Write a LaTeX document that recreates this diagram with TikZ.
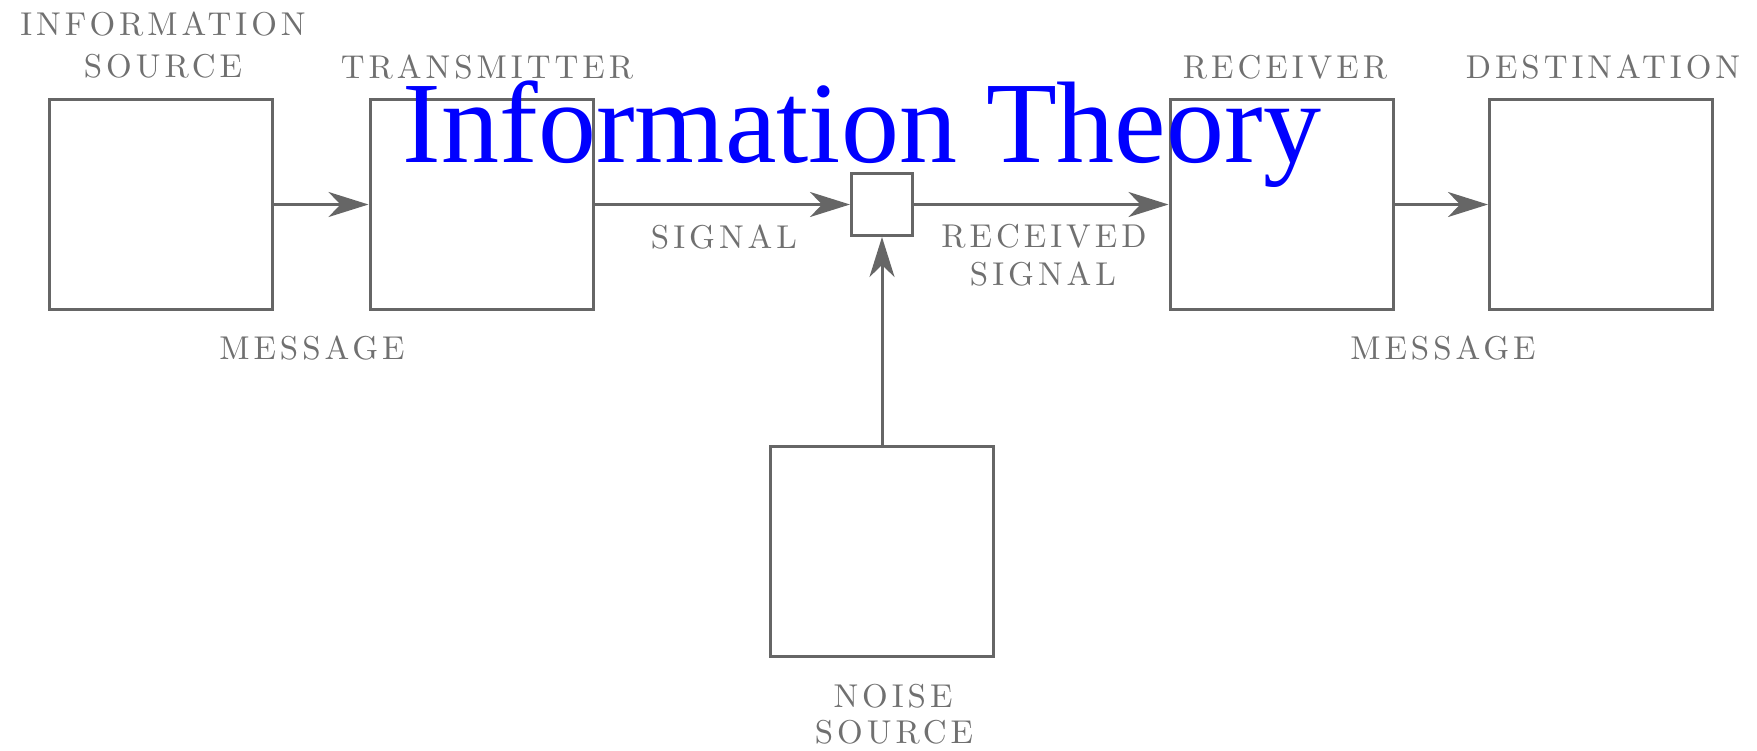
\documentclass[tikz,border=0pt]{standalone}
\usepackage{fontspec}
\newfontfamily\titlefont{Liberation Serif}
\newfontfamily\labfont{lmroman10-regular.otf}[LetterSpace=12]
\usetikzlibrary{arrows.meta}
\definecolor{ln}{HTML}{666666}
\definecolor{tx}{HTML}{707070}
\definecolor{ttl}{RGB}{0,0,255}
\tikzset{
  blk/.style={draw=ln, line width=3pt, inner sep=0pt, minimum width=223pt, minimum height=210pt},
  lbl/.style={text=tx, font=\labfont\fontsize{33}{33}\selectfont, inner sep=0pt, anchor=base},
  conn/.style={draw=ln, line width=3pt, -{Stealth[length=40pt,width=25pt,inset=12pt]}},
}
\begin{document}
\begin{tikzpicture}[x=1pt,y=-1pt]
\useasboundingbox (0,0) rectangle (1757,750);
% blocks
\node[blk] (src) at (161,204.5) {};
\node[blk] (tr) at (481.5,204.5) {};
\node[blk, minimum width=61pt, minimum height=62pt] (mix) at (882,204.5) {};
\node[blk] (rc) at (1281.5,204.5) {};
\node[blk] (dst) at (1601,204.5) {};
\node[blk] (ns) at (882,551) {};
% connectors
\draw[conn] (src.east) -- (tr.west);
\draw[conn] (tr.east) -- (mix.west);
\draw[conn] (mix.east) -- (rc.west);
\draw[conn] (rc.east) -- (dst.west);
\draw[conn] (ns.north) -- (mix.south);
% labels
\node[lbl] (l1) at (163,35) {INFORMATION};
\node[lbl] (l2) at (163,77) {SOURCE};
\node[lbl] (l3) at (487,78) {TRANSMITTER};
\node[lbl] (l4) at (1285,78) {RECEIVER};
\node[lbl] (l5) at (1603,78) {DESTINATION};
\node[lbl] (l6) at (312,359) {MESSAGE};
\node[lbl] (l7) at (724,248) {SIGNAL};
\node[lbl] (l8) at (1044,247) {RECEIVED};
\node[lbl] (l9) at (1043,285) {SIGNAL};
\node[lbl] (l10) at (1443,359) {MESSAGE};
\node[lbl] (l11) at (893,707) {NOISE};
\node[lbl] (l12) at (894,743) {SOURCE};
% title
\node[text=ttl, font=\titlefont\fontsize{116}{116}\selectfont, inner sep=0pt, anchor=base] (title) at (862,162) {Information Theory};
\end{tikzpicture}
\end{document}
